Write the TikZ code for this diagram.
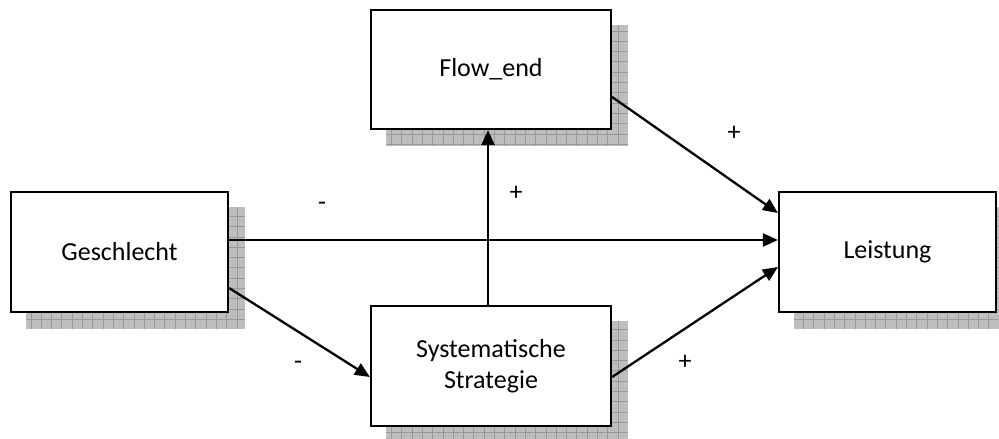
\documentclass[tikz,border=0pt]{standalone}
\usepackage{fontspec}
\setmainfont{Carlito}
\usetikzlibrary{arrows.meta,calc,backgrounds}
\definecolor{shadowgray}{HTML}{BEBEBE}
\definecolor{gridgray}{HTML}{999999}
\tikzset{
  box/.style={draw=black, line width=2.2pt, fill=white, align=center,
    inner sep=0pt, font=\fontsize{26}{31}\selectfont},
  link/.style={line width=2.3pt, -{Triangle[length=15pt,width=13pt]}},
  sign/.style={font=\fontsize{26}{31}\selectfont, inner sep=0pt},
  shadowbox/.style={fill=shadowgray, path picture={
    \draw[gridgray, line width=0.7pt, step=10.3pt]
      (path picture bounding box.south west) grid (path picture bounding box.north east);}},
}
\newcommand{\boxshadow}[1]{%
  \path[shadowbox] ($(#1.north west)+(16,16)$) rectangle ($(#1.south east)+(16,16)$);}
\begin{document}
\begin{tikzpicture}[x=1pt,y=-1pt]
  \useasboundingbox (0,0) rectangle (999,439);

  % variables
  \node[box, minimum width=240pt, minimum height=119pt] (fe) at (491,69.5) {Flow\_end};
  \node[box, minimum width=217pt, minimum height=120pt] (ge) at (119.5,252) {Geschlecht};
  \node[box, minimum width=217pt, minimum height=120pt] (le) at (887.5,252) {Leistung};
  \node[box, minimum width=240pt, minimum height=120pt] (ss) at (491,366) {Systematische\\Strategie};

  % drop shadows behind the boxes
  \begin{scope}[on background layer]
    \boxshadow{fe}
    \boxshadow{ge}
    \boxshadow{le}
    \boxshadow{ss}
  \end{scope}

  % paths
  \draw[link] ($(fe.east)+(0,27.5)$) -- ($(le.west)+(0,-39)$);
  \draw[link] ($(ge.east)+(0,-12)$) -- ($(le.west)+(0,-12)$);
  \draw[link] ($(ge.east)+(0,36)$) -- ($(ss.west)+(0,11)$);
  \draw[link] ($(ss.east)+(0,11)$) -- ($(le.west)+(0,15)$);
  \draw[link] ($(ss.north)+(-3,0)$) -- ($(fe.south)+(-3,0)$);

  % path signs
  \node[sign] (s1) at (322,206) {-};
  \node[sign] (s2) at (734,133) {+};
  \node[sign] (s3) at (516,193) {+};
  \node[sign] (s4) at (298,365) {-};
  \node[sign] (s5) at (685,362) {+};
\end{tikzpicture}
\end{document}
